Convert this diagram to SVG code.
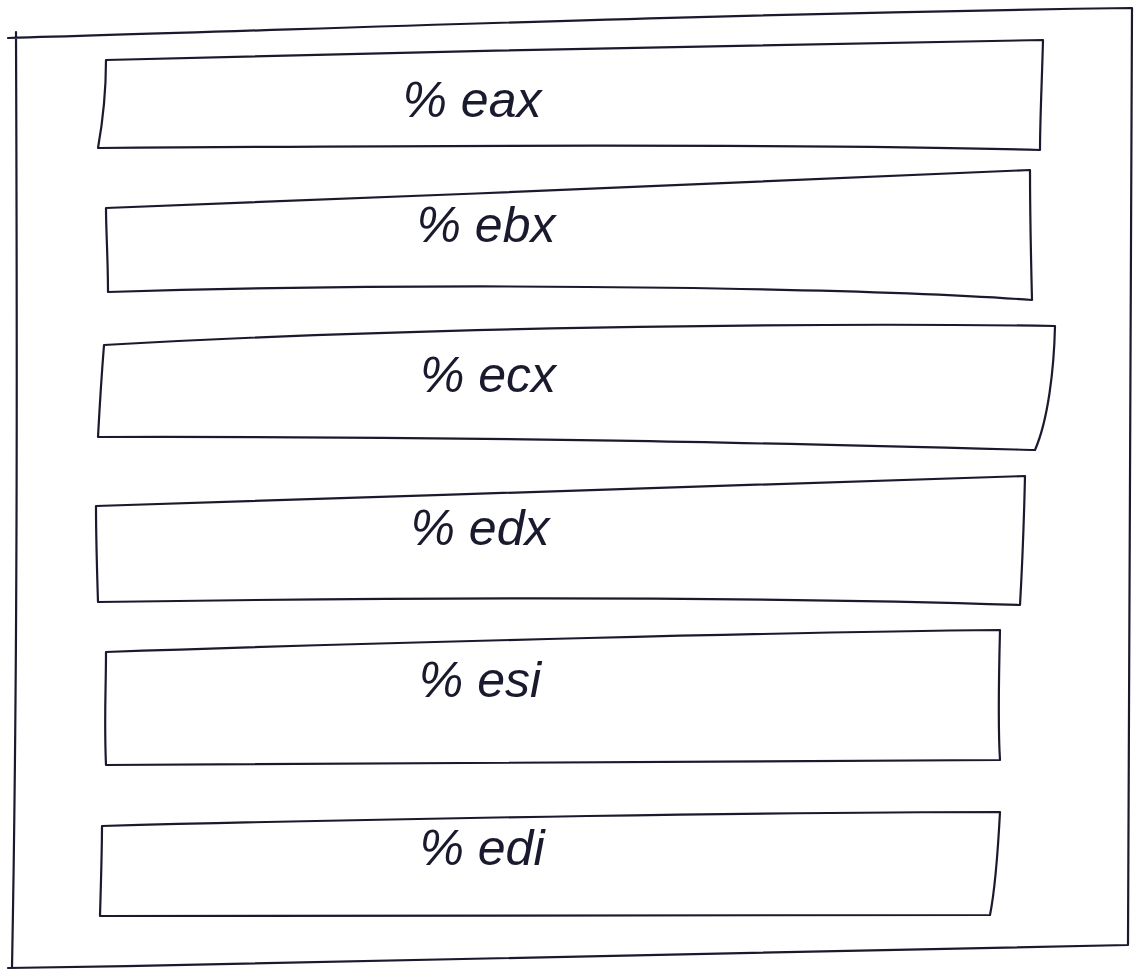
<svg xmlns="http://www.w3.org/2000/svg" width="1137" height="974" viewBox="0 0 1137 974">
<style>
.ln{fill:none;stroke:#1a1a2e;stroke-width:2.2;stroke-linecap:round;stroke-linejoin:round}
.lb{font-family:"Liberation Sans",sans-serif;font-style:italic;font-weight:normal;font-size:50px;fill:#1a1a2e;text-anchor:middle}
</style>
<rect width="1137" height="974" fill="#ffffff"/>
<g id="frame">
<path class="ln" d="M8,38 C300,30 700,14 1132,8 M16,32 C17,300 18,650 12,968 M8,968 C400,962 800,952 1128,945 M1132,8 C1130,300 1130,650 1128,945"/>
</g>
<g id="reg-eax">
<path class="ln" d="M106,60 C400,52 800,44 1043,40 C1042,80 1040,120 1040,150 C900,146 600,144 98,148 C103,120 106,90 106,60 Z"/>
<text class="lb" x="472" y="117">% eax</text>
</g>
<g id="reg-ebx">
<path class="ln" d="M106,208 C400,196 800,182 1030,170 C1030,200 1031,260 1032,300 C900,290 500,280 108,292 C108,260 106,230 106,208 Z"/>
<text class="lb" x="486" y="242">% ebx</text>
</g>
<g id="reg-ecx">
<path class="ln" d="M104,345 C400,328 800,322 1055,326 C1054,370 1048,420 1035,450 C800,444 500,436 98,437 C100,400 102,370 104,345 Z"/>
<text class="lb" x="488" y="392">% ecx</text>
</g>
<g id="reg-edx">
<path class="ln" d="M96,506 C400,496 800,484 1025,476 C1024,520 1022,570 1020,605 C800,598 500,596 98,602 C97,570 96,540 96,506 Z"/>
<text class="lb" x="480" y="545">% edx</text>
</g>
<g id="reg-esi">
<path class="ln" d="M106,652 C400,642 800,632 1000,630 C999,670 998,730 1000,760 C800,762 500,764 106,765 C104,720 106,690 106,652 Z"/>
<text class="lb" x="480" y="697">% esi</text>
</g>
<g id="reg-edi">
<path class="ln" d="M102,826 C400,818 800,812 1000,812 C998,850 995,890 990,915 C800,915 500,915 100,916 C101,880 102,850 102,826 Z"/>
<text class="lb" x="482" y="865">% edi</text>
</g>
</svg>
